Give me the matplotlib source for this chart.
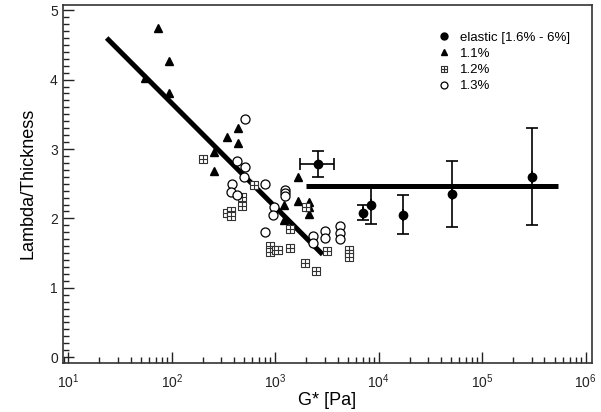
import numpy as np
import matplotlib.pyplot as plt
from matplotlib.path import Path
from matplotlib.lines import Line2D
from matplotlib.ticker import LogLocator, MultipleLocator, FixedLocator, NullFormatter

plt.rcParams['font.family'] = ['Liberation Sans', 'DejaVu Sans']

# elastic [1.6% - 6%]
el_x = [2606, 6982, 8413, 17000, 50600, 300000]
el_y = [2.78, 2.08, 2.20, 2.05, 2.35, 2.60]
el_yerr = [0.19, 0.11, 0.28, 0.28, 0.475, 0.70]
el_xerr_lo = [872, 0, 0, 0, 0, 0]
el_xerr_hi = [1111, 0, 0, 0, 0, 0]

# 1.1%
tri_x = [74, 93.3, 54.7, 93.3, 440, 344, 440, 256, 256, 1667, 1222, 1667,
         2135, 2135, 2135, 1222]
tri_y = [4.75, 4.27, 4.02, 3.80, 3.30, 3.17, 3.09, 2.96, 2.68, 2.59, 2.19, 2.25,
         2.23, 2.16, 2.07, 1.97]

# 1.2%
sq_x = [201, 622, 473, 473, 339, 373, 373, 1387, 1967, 889, 889, 1016, 1069,
        1387, 1923, 2455, 3177, 5188, 5188, 5188]
sq_y = [2.85, 2.48, 2.31, 2.18, 2.08, 2.11, 2.03, 1.85, 2.17, 1.60, 1.52, 1.54,
        1.54, 1.57, 1.35, 1.24, 1.53, 1.54, 1.49, 1.44]

# 1.3%
ci_x = [506, 424, 506, 499, 379, 795, 371, 430, 1241, 1241, 1241, 971, 957,
        795, 2328, 2328, 3020, 3020, 4217, 4217, 4217]
ci_y = [3.43, 2.82, 2.74, 2.60, 2.50, 2.49, 2.38, 2.33, 2.41, 2.37, 2.32, 2.16,
        2.05, 1.81, 1.75, 1.65, 1.82, 1.71, 1.89, 1.79, 1.70]

# fit lines
fit1_x = [23.5, 2870]
fit1_y = [4.60, 1.48]
fit2_x = [1982, 542000]
fit2_y = [2.47, 2.47]

# square with a cross inside
v = [(-1, -1), (1, -1), (1, 1), (-1, 1), (-1, -1),
     (0, -1), (0, 1), (-1, 0), (1, 0)]
c = [Path.MOVETO, Path.LINETO, Path.LINETO, Path.LINETO, Path.CLOSEPOLY,
     Path.MOVETO, Path.LINETO, Path.MOVETO, Path.LINETO]
sq_marker = Path(v, c)

fig = plt.figure(figsize=(6.01, 4.12), dpi=100)
ax = fig.add_axes([0.1043, 0.1197, 0.8812, 0.8689])

ax.plot(fit1_x, fit1_y, color='black', lw=3.6, solid_capstyle='butt', zorder=2)
ax.plot(fit2_x, fit2_y, color='black', lw=3.6, solid_capstyle='butt', zorder=2)

ax.errorbar(el_x, el_y, yerr=el_yerr, xerr=[el_xerr_lo, el_xerr_hi], fmt='o',
            color='black', ms=6, elinewidth=1.2, capsize=4, capthick=1.2,
            zorder=3)
ax.plot(tri_x, tri_y, '^', color='black', ms=6, ls='none', zorder=3)
ax.plot(sq_x, sq_y, marker=sq_marker, color='#333333', mfc='white', mew=0.8,
        ms=5.5, ls='none', zorder=3)
ax.plot(ci_x, ci_y, 'o', color='black', mfc='white', mew=0.9, ms=6.5,
        ls='none', zorder=3)

ax.set_xscale('log')
ax.set_xlim(10 ** 0.946, 10 ** 6.064)
ax.set_ylim(-0.08, 5.08)

ax.xaxis.set_major_locator(LogLocator(base=10, numticks=10))
ax.xaxis.set_minor_locator(LogLocator(base=10, subs=np.arange(2, 10), numticks=20))
ax.xaxis.set_minor_formatter(NullFormatter())
ax.yaxis.set_major_locator(FixedLocator([0, 1, 2, 3, 4, 5]))
ax.yaxis.set_minor_locator(MultipleLocator(0.1))

ax.tick_params(which='both', direction='in', top=False, right=False,
               labelsize=10, colors='#222222')
ax.tick_params(which='major', length=8, width=1)
ax.tick_params(which='minor', length=4, width=1)
ax.tick_params(axis='x', pad=7)
for s in ax.spines.values():
    s.set_linewidth(1.2)
    s.set_color('#333333')

ax.set_xlabel('G* [Pa]', fontsize=13, labelpad=1)
ax.set_ylabel('Lambda/Thickness', fontsize=13, labelpad=10)

handles = [
    Line2D([], [], marker='o', color='black', ls='none', ms=5),
    Line2D([], [], marker='^', color='black', ls='none', ms=5),
    Line2D([], [], marker=sq_marker, color='#333333', mfc='white', mew=0.8,
           ms=4.5, ls='none'),
    Line2D([], [], marker='o', color='black', mfc='white', mew=0.9, ms=5,
           ls='none'),
]
labels = ['elastic [1.6% - 6%]', '1.1%', '1.2%', '1.3%']
ax.legend(handles, labels, loc='upper left', bbox_to_anchor=(0.685, 0.958),
          frameon=False, fontsize=9.5, handlelength=1.0, handletextpad=0.7,
          labelspacing=0.3)

fig.savefig('out.png', dpi=100)
